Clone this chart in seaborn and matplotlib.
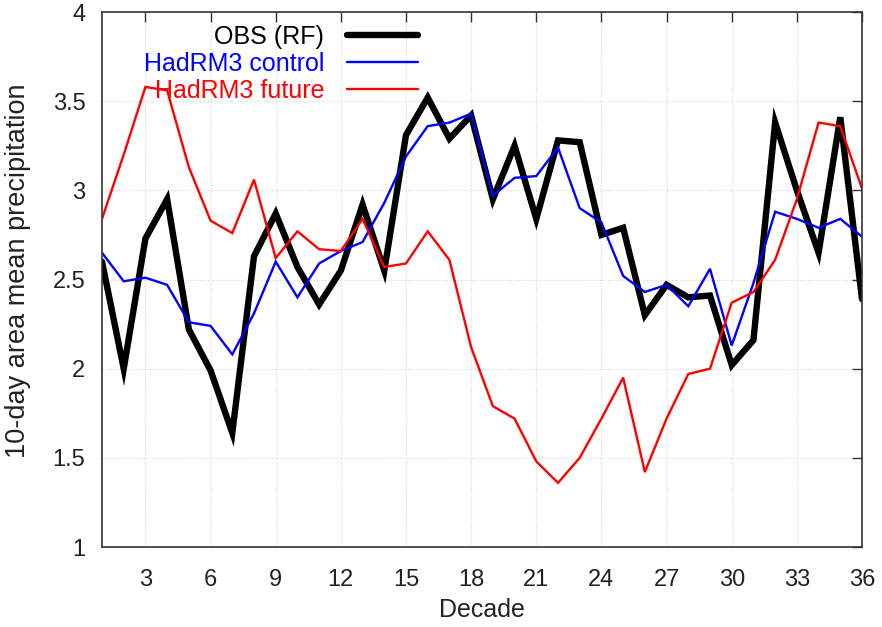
import numpy as np
import pandas as pd
import matplotlib
matplotlib.use("Agg")
import matplotlib.pyplot as plt
import seaborn as sns

decades = list(range(1, 37))
obs_rf = [2.60, 2.00, 2.73, 2.95, 2.22, 1.99, 1.64, 2.63, 2.87, 2.57, 2.36, 2.55,
          2.92, 2.55, 3.31, 3.52, 3.29, 3.42, 2.95, 3.25, 2.84, 3.28, 3.27, 2.75,
          2.79, 2.30, 2.47, 2.40, 2.41, 2.02, 2.16, 3.38, 3.00, 2.65, 3.41, 2.39]
hadrm3_control = [2.65, 2.49, 2.51, 2.47, 2.26, 2.24, 2.08, 2.31, 2.60, 2.40, 2.59, 2.66,
                  2.71, 2.93, 3.19, 3.36, 3.38, 3.43, 2.97, 3.07, 3.08, 3.24, 2.90, 2.82,
                  2.52, 2.43, 2.47, 2.35, 2.56, 2.13, 2.48, 2.88, 2.84, 2.79, 2.84, 2.74]
hadrm3_future = [2.84, 3.20, 3.58, 3.56, 3.13, 2.83, 2.76, 3.06, 2.62, 2.77, 2.67, 2.66,
                 2.84, 2.57, 2.59, 2.77, 2.61, 2.12, 1.79, 1.72, 1.48, 1.36, 1.50, 1.72,
                 1.95, 1.42, 1.72, 1.97, 2.00, 2.37, 2.43, 2.61, 2.95, 3.38, 3.36, 3.01]
series_names = ["OBS (RF)", "HadRM3 control", "HadRM3 future"]
series_colors = ["#000000", "#0000ff", "#ff0000"]
series_widths = [4.6, 1.7, 1.7]
x_ticks = list(range(3, 37, 3))
y_ticks = [1, 1.5, 2, 2.5, 3, 3.5, 4]
y_tick_labels = ["1", "1.5", "2", "2.5", "3", "3.5", "4"]

sns.set_style("white")
plt.rcParams["font.family"] = ["Liberation Sans", "DejaVu Sans"]

df = pd.DataFrame({
    "Decade": decades * 3,
    "value": obs_rf + hadrm3_control + hadrm3_future,
    "series": sum([[n] * len(decades) for n in series_names], []),
})

fig = plt.figure(figsize=(8.82, 6.27), dpi=100)
ax = fig.add_axes([102 / 882, 1 - 547 / 627, 760 / 882, 535 / 627])

for name, col, lw in zip(series_names, series_colors, series_widths):
    sub = df[df["series"] == name]
    sns.lineplot(data=sub, x="Decade", y="value", color=col, linewidth=lw,
                 ax=ax, label=name, solid_joinstyle="miter")

ax.set_xlim(1, 36)
ax.set_ylim(1, 4)
ax.set_xticks(x_ticks)
ax.set_yticks(y_ticks)
ax.set_yticklabels(y_tick_labels)
ax.grid(True, color="#d8d8d8", linestyle=(0, (1, 1.5)), linewidth=0.8)
ax.tick_params(direction="in", length=7, width=1, top=True, right=True,
               labelsize=17, colors="#333333", labelcolor="#222222")
ax.tick_params(axis="y", pad=12)
ax.tick_params(axis="x", pad=16)
for s in ax.spines.values():
    s.set_color("#333333")
    s.set_linewidth(1.2)
ax.set_xlabel("Decade", fontsize=18, labelpad=5, color="#222222")
ax.set_ylabel("10-day area mean precipitation", fontsize=19.5, color="#222222")
ax.yaxis.set_label_coords(-0.094, 0.516)

leg = ax.legend(loc="upper right", bbox_to_anchor=((418 - 102) / 760, 1 - 13 / 535),
                frameon=False, markerfirst=False, fontsize=18, handlelength=2.85,
                handletextpad=0.9, labelspacing=0.12, borderpad=0, borderaxespad=0,
                labelcolor=series_colors)

fig.savefig("out.png", dpi=100)
